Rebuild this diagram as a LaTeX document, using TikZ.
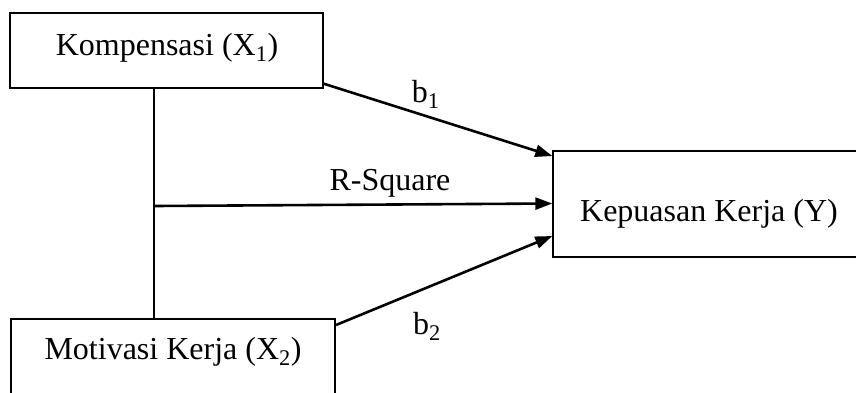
\documentclass[tikz,border=0pt]{standalone}
\usepackage{fontspec}
\setmainfont{Liberation Serif}
\usetikzlibrary{arrows.meta,calc}
\begin{document}
\begin{tikzpicture}[x=1pt,y=-1pt,
  box/.style={draw=black, line width=2pt, inner sep=0pt, fill=none},
  lbl/.style={inner sep=0pt, anchor=base, font=\fontsize{32}{38}\selectfont},
  conn/.style={line width=2pt},
  arr/.style={line width=2.6pt, -{Triangle[length=17pt,width=12pt]}}]
\clip (0,0) rectangle (856,392);
\fill[white] (0,0) rectangle (856,392);
% boxes
\node[box, minimum width=312.7pt, minimum height=75pt] (k) at (166.35,50.2) {};
\node[box, minimum width=324.3pt, minimum height=90pt] (m) at (172.85,364) {};
\node[box, minimum width=310pt, minimum height=106pt] (y) at (708.3,203.5) {};
% box texts
\node[lbl] (kt) at (167,55) {Kompensasi (X\textsubscript{1})};
\node[lbl] (mt) at (173,359.3) {Motivasi Kerja (X\textsubscript{2})};
\node[lbl] (yt) at (709,221.7) {Kepuasan Kerja (Y)};
% connectors
\coordinate (vx) at (154.3,206);
\draw[conn] (vx |- k.south) -- (vx |- m.north);
\draw[arr] ([yshift=5pt]k.south east) -- ([yshift=-6.5pt]y.north west);
\draw[arr] (vx) -- (y.west);
\draw[arr] ([yshift=-7pt]m.north east) -- ([yshift=21.5pt]y.south west);
% labels
\node[lbl, anchor=base west] (b1) at (411.7,102.3) {b\textsubscript{1}};
\node[lbl, anchor=base west] (rs) at (329.3,190.7) {R-Square};
\node[lbl, anchor=base west] (b2) at (413,334) {b\textsubscript{2}};
\end{tikzpicture}
\end{document}
